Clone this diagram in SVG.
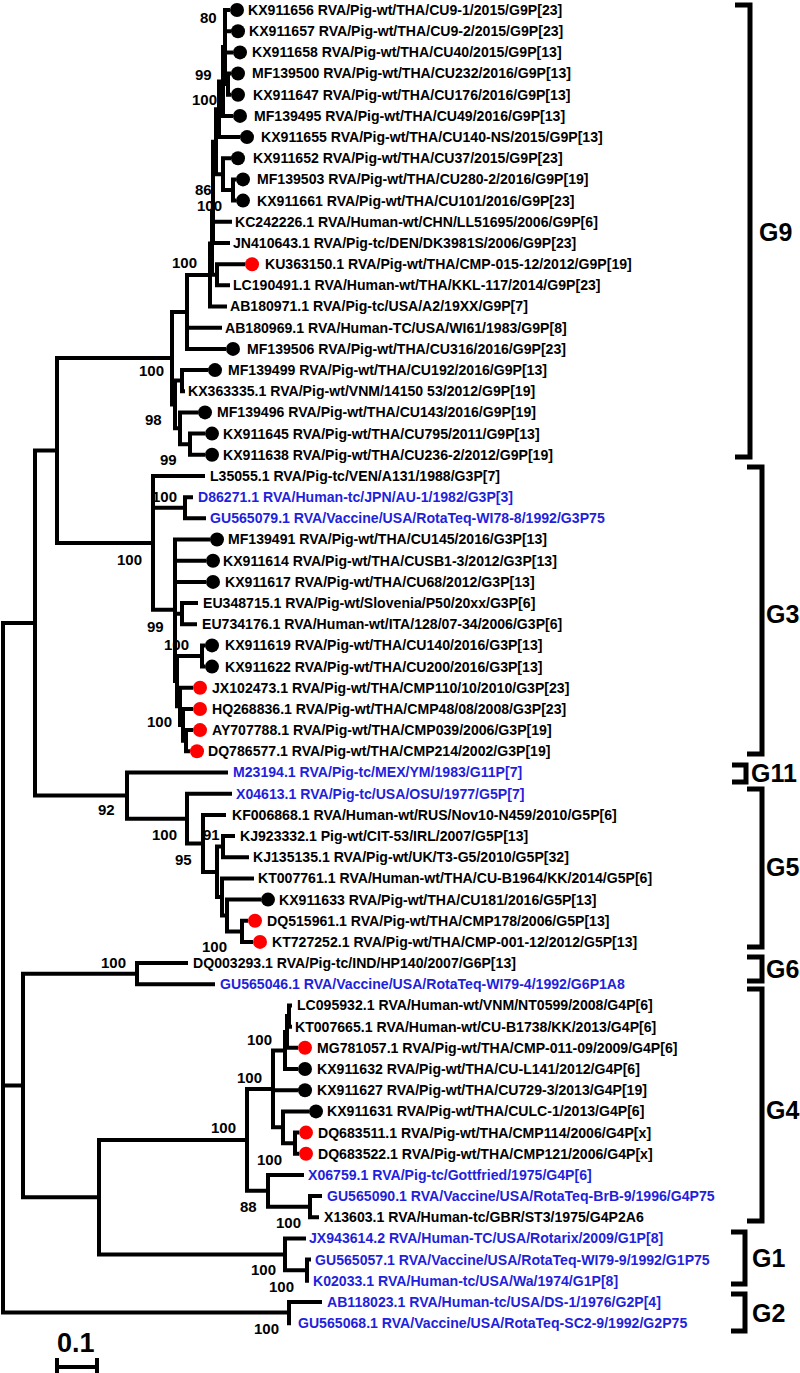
<svg xmlns="http://www.w3.org/2000/svg" width="800" height="1373" viewBox="0 0 800 1373">
<style>
.br{fill:none;stroke:#000;stroke-width:4;stroke-linecap:square}
.bk{fill:none;stroke:#000;stroke-width:5}
text{font-family:"Liberation Sans",Arial,sans-serif;font-weight:bold;font-size:15px;fill:#000}
g[id^="leaf-"] text{transform:scaleX(0.94);transform-box:fill-box;transform-origin:0 0}
.bl{fill:#1f1fdc}
.g{font-size:25px}
.sc{font-size:27px}
.k{fill:#000}
.r{fill:#ff0000}
</style>
<rect width="800" height="1373" fill="#fff"/>
<g id="branches" class="br">
<path d="M3 623V1312.6M3 623H35M35 450.6V795.6M35 450.6H57M57 358V543M57 358H172M57 543H153M35 795.6H127M3 1085.5H23M23 973.7V1197.2M23 973.7H137M23 1197.2H99M99 1140V1254.4M99 1140H247M99 1254.4H285M3 1312.6H289"/>
<path d="M172 312V404.5M172 312H187M172 404.5H175M187 275V348.9M187 275H210M187 327.7H220M187 348.9H224M210 243.6V306.5M210 243.6H212M210 306.5H225M212 212.4V274.8M212 212.4H213M212 274.8H217M213 141.7V243M213 243H228M213 221.8H230M213 141.7H216M216 109.3V174.2M216 109.3H219M216 174.2H223M219 81.5V137.1M219 81.5H223M219 137.1H238M223 47V115.9M223 47H225M223 115.9H231M225 10V84.1M225 10H228M225 31.2H229M225 52.4H231M225 84.1H228M228 73.5V94.7M228 73.5H229M228 94.7H229M223 158.3V190M223 158.3H229M223 190H233M233 179.4V200.6M233 179.4H234M233 200.6H234M217 264.2V285.3M217 264.2H243M217 285.3H228"/>
<path d="M175 380.6V428.3M175 380.6H182M175 428.3H180M182 370.1V391.2M182 370.1H206M182 391.2H183M180 412.4V444.2M180 412.4H196M180 444.2H190M190 433.6V454.8M190 433.6H203M190 454.8H203"/>
<path d="M153 476V609.7M153 476H203M153 507.8H185M153 609.7H175M185 497.2V518.3M185 497.2H191M185 518.3H204M175 539.5V681M175 539.5H208M175 560.7H204M175 581.9H204M175 613.7H182M175 681H177M182 603.1V624.2M182 603.1H196M182 624.2H195M177 656V706.3M177 656H202M177 706.3H180M202 645.4V666.6M202 645.4H203M202 666.6H203M180 687.8V724.9M180 687.8H191M180 724.9H183M183 709V740.7M183 709H191M183 740.7H186M186 730.1V751.3M186 730.1H191M186 751.3H188"/>
<path d="M127 772.5V818.8M127 772.5H226M127 818.8H187M187 793.7V843.5M187 793.7H230M187 843.5H203M203 814.9V872M203 814.9H224M203 872H217M217 846.6V897M217 846.6H223M217 897H222M223 836V857.2M223 836H233M223 857.2H247M222 878.4V915.5M222 878.4H252M222 915.5H227M227 899.6V931.4M227 899.6H259M227 931.4H242M242 920.8V941.9M242 920.8H246M242 941.9H251"/>
<path d="M137 963.1V984.3M137 963.1H186M137 984.3H213"/>
<path d="M247 1089V1190.8M247 1089H273M247 1190.8H268M273 1050.5V1127.3M273 1050.5H285M273 1090.2H296M273 1127.3H283M285 1032V1069M285 1032H287M285 1069H296M287 1016.1V1047.8M287 1016.1H289M287 1047.8H296M289 1005.5V1026.7M289 1005.5H290M289 1026.7H290M283 1111.4V1143.2M283 1111.4H307M283 1143.2H295M295 1132.6V1153.7M295 1132.6H297M295 1153.7H297M268 1174.9V1206.7M268 1174.9H302M268 1206.7H310M310 1196.1V1217.3M310 1196.1H320M310 1217.3H317"/>
<path d="M285 1238.5V1270.2M285 1238.5H304M285 1270.2H307M307 1259.6V1280.8M307 1259.6H309M289 1302V1323.2M289 1302H320"/>
</g>
<g id="scale-bar">
<path class="br" d="M57 1367H97M57 1360V1372M97 1360V1372"/>
<text class="sc" x="57" y="1352">0.1</text>
</g>
<g id="bootstrap">
<text x="200" y="23">80</text>
<text x="195" y="80">99</text>
<text x="192" y="105">100</text>
<text x="195" y="195">86</text>
<text x="197" y="211">100</text>
<text x="172" y="268">100</text>
<text x="139" y="376">100</text>
<text x="145" y="425">98</text>
<text x="160" y="465">99</text>
<text x="152" y="502">100</text>
<text x="117" y="565">100</text>
<text x="147" y="632">99</text>
<text x="164" y="650">100</text>
<text x="147" y="727">100</text>
<text x="98" y="815">92</text>
<text x="152" y="840">100</text>
<text x="203" y="840">91</text>
<text x="175" y="865">95</text>
<text x="202" y="952">100</text>
<text x="101" y="968">100</text>
<text x="247" y="1045">100</text>
<text x="237" y="1083">100</text>
<text x="211" y="1133">100</text>
<text x="257" y="1165">100</text>
<text x="240" y="1212">88</text>
<text x="276" y="1228">100</text>
<text x="251" y="1275">100</text>
<text x="269" y="1292">100</text>
<text x="254" y="1334">100</text>
</g>
<g id="leaf-KX911656"><circle class="k" cx="237" cy="10" r="7"/><text x="248" y="15">KX911656 RVA/Pig-wt/THA/CU9-1/2015/G9P[23]</text></g>
<g id="leaf-KX911657"><circle class="k" cx="238" cy="31.2" r="7"/><text x="249" y="36.2">KX911657 RVA/Pig-wt/THA/CU9-2/2015/G9P[23]</text></g>
<g id="leaf-KX911658"><circle class="k" cx="240" cy="52.4" r="7"/><text x="252" y="57.4">KX911658 RVA/Pig-wt/THA/CU40/2015/G9P[13]</text></g>
<g id="leaf-MF139500"><circle class="k" cx="238" cy="73.5" r="7"/><text x="252" y="78.5">MF139500 RVA/Pig-wt/THA/CU232/2016/G9P[13]</text></g>
<g id="leaf-KX911647"><circle class="k" cx="238" cy="94.7" r="7"/><text x="253" y="99.7">KX911647 RVA/Pig-wt/THA/CU176/2016/G9P[13]</text></g>
<g id="leaf-MF139495"><circle class="k" cx="240" cy="115.9" r="7"/><text x="254" y="120.9">MF139495 RVA/Pig-wt/THA/CU49/2016/G9P[13]</text></g>
<g id="leaf-KX911655"><circle class="k" cx="247" cy="137.1" r="7"/><text x="261" y="142.1">KX911655 RVA/Pig-wt/THA/CU140-NS/2015/G9P[13]</text></g>
<g id="leaf-KX911652"><circle class="k" cx="238" cy="158.3" r="7"/><text x="253" y="163.3">KX911652 RVA/Pig-wt/THA/CU37/2015/G9P[23]</text></g>
<g id="leaf-MF139503"><circle class="k" cx="243" cy="179.4" r="7"/><text x="257" y="184.4">MF139503 RVA/Pig-wt/THA/CU280-2/2016/G9P[19]</text></g>
<g id="leaf-KX911661"><circle class="k" cx="243" cy="200.6" r="7"/><text x="257" y="205.6">KX911661 RVA/Pig-wt/THA/CU101/2016/G9P[23]</text></g>
<g id="leaf-KC242226"><text x="235" y="226.8">KC242226.1 RVA/Human-wt/CHN/LL51695/2006/G9P[6]</text></g>
<g id="leaf-JN410643"><text x="233" y="248">JN410643.1 RVA/Pig-tc/DEN/DK3981S/2006/G9P[23]</text></g>
<g id="leaf-KU363150"><circle class="r" cx="252" cy="264.2" r="7"/><text x="265" y="269.2">KU363150.1 RVA/Pig-wt/THA/CMP-015-12/2012/G9P[19]</text></g>
<g id="leaf-LC190491"><text x="233" y="290.3">LC190491.1 RVA/Human-wt/THA/KKL-117/2014/G9P[23]</text></g>
<g id="leaf-AB180971"><text x="230" y="311.5">AB180971.1 RVA/Pig-tc/USA/A2/19XX/G9P[7]</text></g>
<g id="leaf-AB180969"><text x="225" y="332.7">AB180969.1 RVA/Human-TC/USA/WI61/1983/G9P[8]</text></g>
<g id="leaf-MF139506"><circle class="k" cx="233" cy="348.9" r="7"/><text x="247" y="353.9">MF139506 RVA/Pig-wt/THA/CU316/2016/G9P[23]</text></g>
<g id="leaf-MF139499"><circle class="k" cx="215" cy="370.1" r="7"/><text x="228" y="375.1">MF139499 RVA/Pig-wt/THA/CU192/2016/G9P[13]</text></g>
<g id="leaf-KX363335"><text x="188" y="396.2">KX363335.1 RVA/Pig-wt/VNM/14150 53/2012/G9P[19]</text></g>
<g id="leaf-MF139496"><circle class="k" cx="205" cy="412.4" r="7"/><text x="217" y="417.4">MF139496 RVA/Pig-wt/THA/CU143/2016/G9P[19]</text></g>
<g id="leaf-KX911645"><circle class="k" cx="212" cy="433.6" r="7"/><text x="223" y="438.6">KX911645 RVA/Pig-wt/THA/CU795/2011/G9P[13]</text></g>
<g id="leaf-KX911638"><circle class="k" cx="212" cy="454.8" r="7"/><text x="223" y="459.8">KX911638 RVA/Pig-wt/THA/CU236-2/2012/G9P[19]</text></g>
<g id="leaf-L35055"><text x="210" y="481">L35055.1 RVA/Pig-tc/VEN/A131/1988/G3P[7]</text></g>
<g id="leaf-D86271"><text class="bl" x="198" y="502.2">D86271.1 RVA/Human-tc/JPN/AU-1/1982/G3P[3]</text></g>
<g id="leaf-GU565079"><text class="bl" x="210" y="523.3">GU565079.1 RVA/Vaccine/USA/RotaTeq-WI78-8/1992/G3P75</text></g>
<g id="leaf-MF139491"><circle class="k" cx="217" cy="539.5" r="7"/><text x="228" y="544.5">MF139491 RVA/Pig-wt/THA/CU145/2016/G3P[13]</text></g>
<g id="leaf-KX911614"><circle class="k" cx="213" cy="560.7" r="7"/><text x="223" y="565.7">KX911614 RVA/Pig-wt/THA/CUSB1-3/2012/G3P[13]</text></g>
<g id="leaf-KX911617"><circle class="k" cx="213" cy="581.9" r="7"/><text x="225" y="586.9">KX911617 RVA/Pig-wt/THA/CU68/2012/G3P[13]</text></g>
<g id="leaf-EU348715"><text x="203" y="608.1">EU348715.1 RVA/Pig-wt/Slovenia/P50/20xx/G3P[6]</text></g>
<g id="leaf-EU734176"><text x="202" y="629.2">EU734176.1 RVA/Human-wt/ITA/128/07-34/2006/G3P[6]</text></g>
<g id="leaf-KX911619"><circle class="k" cx="212" cy="645.4" r="7"/><text x="225" y="650.4">KX911619 RVA/Pig-wt/THA/CU140/2016/G3P[13]</text></g>
<g id="leaf-KX911622"><circle class="k" cx="212" cy="666.6" r="7"/><text x="225" y="671.6">KX911622 RVA/Pig-wt/THA/CU200/2016/G3P[13]</text></g>
<g id="leaf-JX102473"><circle class="r" cx="200" cy="687.8" r="7"/><text x="212" y="692.8">JX102473.1 RVA/Pig-wt/THA/CMP110/10/2010/G3P[23]</text></g>
<g id="leaf-HQ268836"><circle class="r" cx="200" cy="709" r="7"/><text x="212" y="714">HQ268836.1 RVA/Pig-wt/THA/CMP48/08/2008/G3P[23]</text></g>
<g id="leaf-AY707788"><circle class="r" cx="200" cy="730.1" r="7"/><text x="212" y="735.1">AY707788.1 RVA/Pig-wt/THA/CMP039/2006/G3P[19]</text></g>
<g id="leaf-DQ786577"><circle class="r" cx="197" cy="751.3" r="7"/><text x="208" y="756.3">DQ786577.1 RVA/Pig-wt/THA/CMP214/2002/G3P[19]</text></g>
<g id="leaf-M23194"><text class="bl" x="233" y="777.5">M23194.1 RVA/Pig-tc/MEX/YM/1983/G11P[7]</text></g>
<g id="leaf-X04613"><text class="bl" x="236" y="798.7">X04613.1 RVA/Pig-tc/USA/OSU/1977/G5P[7]</text></g>
<g id="leaf-KF006868"><text x="232" y="819.9">KF006868.1 RVA/Human-wt/RUS/Nov10-N459/2010/G5P[6]</text></g>
<g id="leaf-KJ923332"><text x="240" y="841">KJ923332.1 Pig-wt/CIT-53/IRL/2007/G5P[13]</text></g>
<g id="leaf-KJ135135"><text x="253" y="862.2">KJ135135.1 RVA/Pig-wt/UK/T3-G5/2010/G5P[32]</text></g>
<g id="leaf-KT007761"><text x="258" y="883.4">KT007761.1 RVA/Human-wt/THA/CU-B1964/KK/2014/G5P[6]</text></g>
<g id="leaf-KX911633"><circle class="k" cx="268" cy="899.6" r="7"/><text x="279" y="904.6">KX911633 RVA/Pig-wt/THA/CU181/2016/G5P[13]</text></g>
<g id="leaf-DQ515961"><circle class="r" cx="255" cy="920.8" r="7"/><text x="267" y="925.8">DQ515961.1 RVA/Pig-wt/THA/CMP178/2006/G5P[13]</text></g>
<g id="leaf-KT727252"><circle class="r" cx="260" cy="941.9" r="7"/><text x="272" y="946.9">KT727252.1 RVA/Pig-wt/THA/CMP-001-12/2012/G5P[13]</text></g>
<g id="leaf-DQ003293"><text x="193" y="968.1">DQ003293.1 RVA/Pig-tc/IND/HP140/2007/G6P[13]</text></g>
<g id="leaf-GU565046"><text class="bl" x="220" y="989.3">GU565046.1 RVA/Vaccine/USA/RotaTeq-WI79-4/1992/G6P1A8</text></g>
<g id="leaf-LC095932"><text x="297" y="1010.5">LC095932.1 RVA/Human-wt/VNM/NT0599/2008/G4P[6]</text></g>
<g id="leaf-KT007665"><text x="295" y="1031.7">KT007665.1 RVA/Human-wt/CU-B1738/KK/2013/G4P[6]</text></g>
<g id="leaf-MG781057"><circle class="r" cx="305" cy="1047.8" r="7"/><text x="317" y="1052.8">MG781057.1 RVA/Pig-wt/THA/CMP-011-09/2009/G4P[6]</text></g>
<g id="leaf-KX911632"><circle class="k" cx="305" cy="1069" r="7"/><text x="317" y="1074">KX911632 RVA/Pig-wt/THA/CU-L141/2012/G4P[6]</text></g>
<g id="leaf-KX911627"><circle class="k" cx="305" cy="1090.2" r="7"/><text x="317" y="1095.2">KX911627 RVA/Pig-wt/THA/CU729-3/2013/G4P[19]</text></g>
<g id="leaf-KX911631"><circle class="k" cx="316" cy="1111.4" r="7"/><text x="327" y="1116.4">KX911631 RVA/Pig-wt/THA/CULC-1/2013/G4P[6]</text></g>
<g id="leaf-DQ683511"><circle class="r" cx="306" cy="1132.6" r="7"/><text x="318" y="1137.6">DQ683511.1 RVA/Pig-wt/THA/CMP114/2006/G4P[x]</text></g>
<g id="leaf-DQ683522"><circle class="r" cx="306" cy="1153.7" r="7"/><text x="318" y="1158.7">DQ683522.1 RVA/Pig-wt/THA/CMP121/2006/G4P[x]</text></g>
<g id="leaf-X06759"><text class="bl" x="308" y="1179.9">X06759.1 RVA/Pig-tc/Gottfried/1975/G4P[6]</text></g>
<g id="leaf-GU565090"><text class="bl" x="327" y="1201.1">GU565090.1 RVA/Vaccine/USA/RotaTeq-BrB-9/1996/G4P75</text></g>
<g id="leaf-X13603"><text x="324" y="1222.3">X13603.1 RVA/Human-tc/GBR/ST3/1975/G4P2A6</text></g>
<g id="leaf-JX943614"><text class="bl" x="309" y="1243.5">JX943614.2 RVA/Human-TC/USA/Rotarix/2009/G1P[8]</text></g>
<g id="leaf-GU565057"><text class="bl" x="315" y="1264.6">GU565057.1 RVA/Vaccine/USA/RotaTeq-WI79-9/1992/G1P75</text></g>
<g id="leaf-K02033"><text class="bl" x="313" y="1285.8">K02033.1 RVA/Human-tc/USA/Wa/1974/G1P[8]</text></g>
<g id="leaf-AB118023"><text class="bl" x="327" y="1307">AB118023.1 RVA/Human-tc/USA/DS-1/1976/G2P[4]</text></g>
<g id="leaf-GU565068"><text class="bl" x="298" y="1328.2">GU565068.1 RVA/Vaccine/USA/RotaTeq-SC2-9/1992/G2P75</text></g>
<g id="clade-G9"><path class="bk" d="M735 5H750V457H735"/><text class="g" x="759" y="241">G9</text></g>
<g id="clade-G3"><path class="bk" d="M747 467H762V754H747"/><text class="g" x="766" y="623">G3</text></g>
<g id="clade-G11"><path class="bk" d="M732 765H746V782H732"/><text class="g" x="751" y="782">G11</text></g>
<g id="clade-G5"><path class="bk" d="M747 789H762V947H747"/><text class="g" x="766" y="876">G5</text></g>
<g id="clade-G6"><path class="bk" d="M747 957H762V981H747"/><text class="g" x="766" y="978">G6</text></g>
<g id="clade-G4"><path class="bk" d="M747 989H762V1221H747"/><text class="g" x="766" y="1119">G4</text></g>
<g id="clade-G1"><path class="bk" d="M731 1232H745V1284H731"/><text class="g" x="752" y="1267">G1</text></g>
<g id="clade-G2"><path class="bk" d="M731 1294H745V1331H731"/><text class="g" x="752" y="1322">G2</text></g>
</svg>
